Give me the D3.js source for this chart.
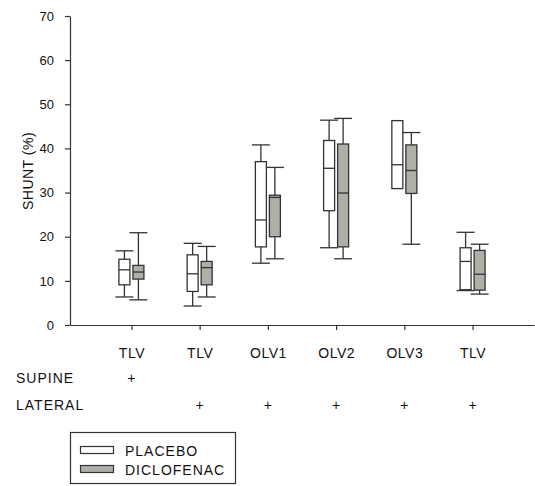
<!DOCTYPE html>
<html>
<head>
<meta charset="utf-8">
<script src="https://cdn.jsdelivr.net/npm/d3@7"></script>
<style>
  html, body { margin: 0; padding: 0; background: #fff; }
  svg { display: block; }
  text { font-family: "Liberation Sans", Arial, sans-serif; fill: #111; }
</style>
</head>
<body>
<svg id="chart" width="535" height="486"></svg>
<script>
// Time points along the x axis
const categories = ["TLV", "TLV", "OLV1", "OLV2", "OLV3", "TLV"];
const supine  = [true, false, false, false, false, false];
const lateral = [false, true, true, true, true, true];

// Box statistics per time point: [whisker low, Q1, median, Q3, whisker high]
const placebo = [
  [6.35, 9.1, 12.5, 14.9, 16.8],
  [4.3, 7.6, 11.6, 15.9, 18.5],
  [14.0, 17.7, 23.8, 37.0, 40.8],
  [17.5, 25.9, 35.5, 41.8, 46.4],
  [30.9, 30.9, 36.3, 46.3, 46.3],
  [7.8, 8.0, 14.4, 17.5, 21.0]
];
const diclofenac = [
  [5.7, 10.4, 12.0, 13.5, 20.9],
  [6.35, 9.1, 13.0, 14.4, 17.8],
  [15.0, 20.0, 28.9, 29.4, 35.7],
  [15.0, 17.7, 29.9, 41.0, 46.8],
  [18.3, 29.8, 35.0, 40.8, 43.6],
  [7.0, 7.9, 11.5, 16.9, 18.3]
];
const yTicks = [0, 10, 20, 30, 40, 50, 60, 70];

const seriesList = [
  { name: "PLACEBO", stats: placebo, fill: "#ffffff", offset: -7 },
  { name: "DICLOFENAC", stats: diclofenac, fill: "#adb0a6", offset: 7 }
];

const svg = d3.select("#chart");
const stroke = "#333";
const fontFam = "'Liberation Sans', Arial, sans-serif";

const y = d3.scaleLinear().domain([0, 70]).range([325, 16]);
const x = d3.scalePoint()
  .domain(d3.range(categories.length))
  .range([70, 534])
  .padding(0.9);

// Y axis
const yAxis = svg.append("g")
  .attr("transform", "translate(70,0)")
  .call(d3.axisLeft(y).tickValues(yTicks).tickSize(5).tickSizeOuter(0).tickPadding(11));
yAxis.selectAll("text").style("font-size", "13px").style("font-family", fontFam).attr("fill", "#111");
yAxis.selectAll("line, path").attr("stroke", stroke).attr("stroke-width", 1.2);

// X axis
const xAxis = svg.append("g")
  .attr("transform", "translate(0,325)")
  .call(d3.axisBottom(x).tickSize(5).tickSizeOuter(0).tickPadding(18).tickFormat(i => categories[i]));
xAxis.selectAll("text").style("font-size", "14px").style("letter-spacing", "0.5px")
  .style("font-family", fontFam).attr("fill", "#111");
xAxis.selectAll("line, path").attr("stroke", stroke).attr("stroke-width", 1.2);

// Y axis title
svg.append("text")
  .attr("transform", "translate(33,171) rotate(-90)")
  .attr("text-anchor", "middle")
  .style("font-size", "14px")
  .style("letter-spacing", "0.5px")
  .text("SHUNT (%)");

// Box plots
const boxW = 11, capW = 18;
seriesList.forEach(s => {
  const g = svg.append("g");
  s.stats.forEach((d, i) => {
    const cx = x(i) + s.offset;
    const [lo, q1, med, q3, hi] = d;
    const gg = g.append("g").attr("stroke", stroke).attr("stroke-width", 1.3).attr("fill", "none");
    // whiskers
    if (hi > q3) {
      gg.append("line").attr("x1", cx).attr("x2", cx).attr("y1", y(q3)).attr("y2", y(hi));
      gg.append("line").attr("x1", cx - capW / 2).attr("x2", cx + capW / 2).attr("y1", y(hi)).attr("y2", y(hi));
    }
    if (lo < q1) {
      gg.append("line").attr("x1", cx).attr("x2", cx).attr("y1", y(q1)).attr("y2", y(lo));
      gg.append("line").attr("x1", cx - capW / 2).attr("x2", cx + capW / 2).attr("y1", y(lo)).attr("y2", y(lo));
    }
    // box
    gg.append("rect")
      .attr("x", cx - boxW / 2).attr("width", boxW)
      .attr("y", y(q3)).attr("height", y(q1) - y(q3))
      .attr("fill", s.fill);
    // median
    gg.append("line").attr("x1", cx - boxW / 2).attr("x2", cx + boxW / 2).attr("y1", y(med)).attr("y2", y(med));
  });
});

// Position rows
const rowStyle = sel => sel.style("font-size", "14px").style("letter-spacing", "1px");
rowStyle(svg.append("text").attr("x", 16).attr("y", 383).text("SUPINE"));
rowStyle(svg.append("text").attr("x", 16).attr("y", 410).text("LATERAL"));
categories.forEach((c, i) => {
  if (supine[i]) svg.append("text").attr("x", x(i)).attr("y", 383).attr("text-anchor", "middle").style("font-size", "14px").text("+");
  if (lateral[i]) svg.append("text").attr("x", x(i)).attr("y", 410).attr("text-anchor", "middle").style("font-size", "14px").text("+");
});

// Legend
const lg = svg.append("g");
lg.append("rect").attr("x", 70.5).attr("y", 432.5).attr("width", 165).attr("height", 51)
  .attr("fill", "#fff").attr("stroke", stroke).attr("stroke-width", 1.2);
seriesList.forEach((s, i) => {
  const yy = 446 + i * 19;
  lg.append("rect").attr("x", 80.5).attr("y", yy + 0.5).attr("width", 33).attr("height", 7)
    .attr("fill", s.fill).attr("stroke", stroke).attr("stroke-width", 1.2);
  lg.append("text").attr("x", 125).attr("y", yy + 9.5)
    .style("font-size", "14px").style("letter-spacing", "1px").text(s.name);
});
</script>
</body>
</html>
